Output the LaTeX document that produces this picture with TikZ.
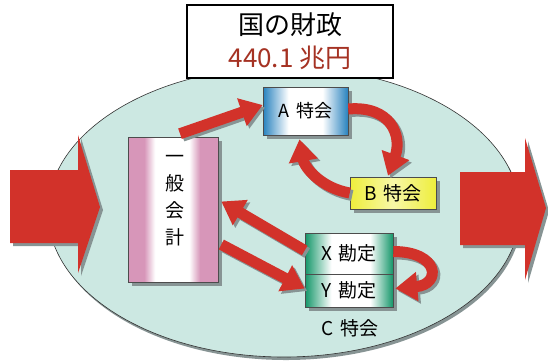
\documentclass[tikz,border=0pt]{standalone}
\usepackage{fontspec}
\setmainfont{Noto Sans CJK JP}
\usetikzlibrary{arrows.meta}
\definecolor{ellfill}{RGB}{204,232,226}
\definecolor{arrred}{RGB}{210,50,42}
\definecolor{bluebox}{RGB}{40,130,190}
\definecolor{greenbox}{RGB}{20,150,105}
\definecolor{pinkbox}{RGB}{215,150,185}
\definecolor{yellowbox}{RGB}{238,238,60}
\definecolor{titlered}{RGB}{165,50,35}
\definecolor{shadowgray}{RGB}{135,148,148}
\pgfdeclarehorizontalshading{blueshade}{100bp}{color(0bp)=(bluebox); color(25bp)=(bluebox); color(40bp)=(white); color(60bp)=(white); color(75bp)=(bluebox); color(100bp)=(bluebox)}
\pgfdeclarehorizontalshading{greenshade}{100bp}{color(0bp)=(greenbox); color(25bp)=(greenbox); color(40bp)=(white); color(62bp)=(white); color(75bp)=(greenbox); color(100bp)=(greenbox)}
\pgfdeclarehorizontalshading{pinkshade}{100bp}{color(0bp)=(pinkbox); color(34bp)=(pinkbox); color(40bp)=(white); color(59bp)=(white); color(65bp)=(pinkbox); color(100bp)=(pinkbox)}
\pgfdeclarehorizontalshading{yellowshade}{100bp}{color(0bp)=(yellowbox); color(25bp)=(yellowbox); color(50bp)=(yellowbox!45!white); color(75bp)=(yellowbox); color(100bp)=(yellowbox)}
\newcommand{\twinarrow}[1]{\draw[redshadow] #1; \draw[redarrow] #1;}
\begin{document}
\begin{tikzpicture}[x=1pt,y=-1pt,
  box/.style={draw=gray!60!black, line width=0.6pt, inner sep=0pt},
  boxshadow/.style={fill=shadowgray},
  redarrow/.style={draw=arrred, line width=11pt, -{Triangle[width=28pt,length=22pt]}},
  redshadow/.style={redarrow, draw=shadowgray, transform canvas={shift={(2.5pt,-2.5pt)}}},
  lbl/.style={font=\fontsize{19}{21}\selectfont, text=black},
  blockarrow/.style={fill=arrred},
]
\useasboundingbox (0,0) rectangle (548,360);
% ellipse
\fill[shadowgray] (286,215) ellipse [x radius=236, y radius=145];
\filldraw[fill=ellfill, draw=gray!40!black, line width=0.6pt] (284,212) ellipse [x radius=236, y radius=145];
% block arrows
\begin{scope}[shift={(3,3)}]
\fill[shadowgray] (10,170) -- (78,170) -- (78,135) -- (100,207) -- (78,273) -- (78,243) -- (10,243) -- cycle;
\fill[shadowgray] (460,172) -- (525,172) -- (525,138) -- (546,208) -- (525,280) -- (525,245) -- (460,245) -- cycle;
\end{scope}
\fill[blockarrow] (10,170) -- (78,170) -- (78,135) -- (100,207) -- (78,273) -- (78,243) -- (10,243) -- cycle;
\fill[blockarrow] (460,172) -- (525,172) -- (525,138) -- (546,208) -- (525,280) -- (525,245) -- (460,245) -- cycle;
% title
\node[draw=black, line width=1.2pt, fill=white, minimum width=206pt, minimum height=73pt, align=center, inner sep=0pt,
  font=\fontsize{26}{33}\selectfont]
  (title) at (290,41.5) {国の財政\\\textcolor{titlered}{440.1 兆円}};
% box shadows
\fill[boxshadow] (132,141) rectangle (222,286);
\fill[boxshadow] (267,91) rectangle (352,139);
\fill[boxshadow] (354,181) rectangle (440,213);
\fill[boxshadow] (309,237) rectangle (397,311);
% boxes
\node[box, minimum width=90pt, minimum height=145pt, shading=pinkshade] (gen) at (173,209.5) {};
\node[lbl, font=\fontsize{19}{27}\selectfont, align=center] (gentext) at (175,201) {一\\般\\会\\計};
\node[box, minimum width=85pt, minimum height=48pt, shading=blueshade, lbl, font=\fontsize{18}{20}\selectfont] (A) at (305.5,111) {A\hspace{7pt}特会};
\node[box, minimum width=86pt, minimum height=32pt, shading=yellowshade, lbl] (B) at (393,193) {B\hspace{6pt}特会};
\node[box, minimum width=88pt, minimum height=41pt, shading=greenshade, lbl] (X) at (349,253.5) {X\hspace{6pt}勘定};
\node[box, minimum width=88pt, minimum height=33pt, shading=greenshade, lbl] (Y) at (349,290.5) {Y\hspace{6pt}勘定};
\node[lbl] (C) at (350,328) {C\hspace{7pt}特会};
% curved arrows
\twinarrow{([xshift=7pt,yshift=3pt]gen.north) -- ([yshift=6pt]A.west)}
\twinarrow{([yshift=2pt]A.east) to[out=5,in=70,looseness=1.4] ([xshift=-5pt,yshift=1pt]B.north)}
\twinarrow{(B.west) to[out=170,in=-80] ([xshift=-6pt,yshift=-4pt]A.south)}
\twinarrow{([yshift=3pt]X.west) -- ([xshift=3pt,yshift=8pt]gen.east)}
\twinarrow{([xshift=3pt,yshift=-35pt]gen.east) -- ([yshift=2pt]Y.west)}
\twinarrow{([yshift=2pt]X.east) to[out=0,in=5,looseness=3.2] ([xshift=2pt,yshift=2pt]Y.east)}
\end{tikzpicture}
\end{document}
